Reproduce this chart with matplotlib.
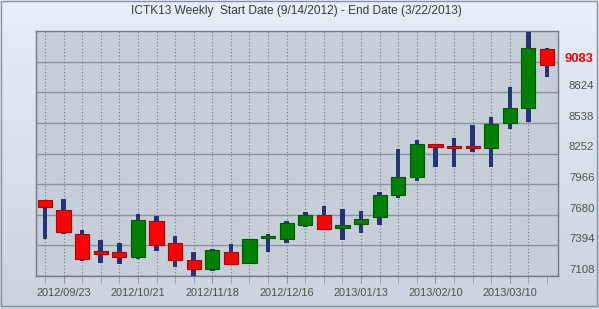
import matplotlib
matplotlib.use('Agg')
import matplotlib.pyplot as plt
import numpy as np
from matplotlib.patches import Rectangle
from matplotlib.transforms import ScaledTranslation, blended_transform_factory

# ---- data ----
week_dates = ["2012/09/16", "2012/09/23", "2012/09/30", "2012/10/07", "2012/10/14", "2012/10/21",
              "2012/10/28", "2012/11/04", "2012/11/11", "2012/11/18", "2012/11/25", "2012/12/02",
              "2012/12/09", "2012/12/16", "2012/12/23", "2012/12/30", "2013/01/06", "2013/01/13",
              "2013/01/20", "2013/01/27", "2013/02/03", "2013/02/10", "2013/02/17", "2013/02/24",
              "2013/03/03", "2013/03/10", "2013/03/17", "2013/03/24"]
opens = [7816, 7720, 7496, 7341, 7329, 7288, 7620, 7413, 7257, 7170, 7329, 7226, 7460, 7450,
         7586, 7673, 7558, 7590, 7655, 7865, 8033, 8338, 8319, 8319, 8307, 8536, 8676, 9226]
highs = [7820, 7825, 7537, 7443, 7413, 7686, 7667, 7481, 7329, 7360, 7403, 7455, 7496, 7620,
         7707, 7760, 7732, 7714, 7891, 8291, 8375, 8344, 8394, 8517, 8592, 8872, 9384, 9238]
lows = [7455, 7502, 7251, 7232, 7220, 7269, 7344, 7195, 7108, 7152, 7208, 7222, 7334, 7418,
        7565, 7537, 7446, 7511, 7583, 7837, 7996, 8126, 8126, 8266, 8126, 8484, 8546, 8965]
closes = [7754, 7521, 7269, 7316, 7282, 7630, 7397, 7260, 7170, 7350, 7217, 7450, 7468, 7599,
          7673, 7549, 7583, 7639, 7860, 8037, 8344, 8316, 8303, 8303, 8530, 8679, 9238, 9083]
grid_values = [7108, 7394, 7680, 7966, 8252, 8538, 8824, 9110]
ytick_labels = [7108, 7394, 7680, 7966, 8252, 8538, 8824]
last_label = "9083"
title = "ICTK13 Weekly  Start Date (9/14/2012) - End Date (3/22/2013)"

FONT = "Liberation Sans"
W, H = 599, 309
fig = plt.figure(figsize=(W / 100, H / 100), dpi=100)

# background gradient
bg = fig.add_axes([0, 0, 1, 1], zorder=-10)
top = np.array([0.905, 0.937, 0.970])
bot = np.array([0.795, 0.832, 0.870])
t = np.linspace(0, 1, 256)[:, None]
grad = top[None, :] * (1 - t) + bot[None, :] * t
bg.imshow(grad[:, None, :], aspect='auto', extent=[0, 1, 0, 1])
bg.add_patch(Rectangle((0.5 / W, 3 / H), 1 - 3 / W, 1 - 3.5 / H, fill=False,
                       edgecolor='#8690a0', lw=1.0, transform=bg.transAxes))
bg.set_xlim(0, 1); bg.set_ylim(0, 1)
bg.axis('off')

L, R, T, B = 36, 558, 31, 276
ax = fig.add_axes([L / W, (H - B) / H, (R - L) / W, (B - T) / H])
ax.set_facecolor('#c6ced8')

x = np.arange(len(opens))
o = np.array(opens, float); c = np.array(closes, float)
hi = np.array(highs, float); lo = np.array(lows, float)
up = c >= o
minh = 20
body_bottom = np.minimum(o, c)
body_h = np.maximum(np.abs(c - o), minh)

ax.bar(x, hi - lo, bottom=lo, width=0.24, color='#27307a', zorder=3)
ax.bar(x[up], body_h[up], bottom=body_bottom[up], width=0.76, color='#008000',
       edgecolor='#005800', lw=0.8, zorder=4)
ax.bar(x[~up], body_h[~up], bottom=body_bottom[~up], width=0.76, color='#ff0000',
       edgecolor='#b00000', lw=0.8, zorder=4)

ax.set_xlim(-0.48, 27.59)
ax.set_ylim(7108, 9396)

# grid
ax.set_yticks(grid_values)
ax.yaxis.grid(True, color='#8a949e', lw=1.0, ls='-', zorder=1)
ax.set_xticks(x[1::4])
ax.set_xticks(x, minor=True)
ax.set_xticklabels([week_dates[i] for i in x[1::4]], fontsize=7.9, color='#505050', family=FONT)
ax.tick_params(axis='x', which='both', length=5, color='#8a949e', direction='out', pad=4)
for xi in x[:-1]:
    ax.axvline(xi, color='#6e7680', lw=0.8, ls=(0, (1, 2)), zorder=1)
ax.tick_params(axis='y', length=0, labelleft=False, labelright=False)
ax.set_axisbelow(True)

for s in ax.spines.values():
    s.set_color('#707a86'); s.set_linewidth(1.0)

# y labels on the right, nudged up
tr = blended_transform_factory(ax.transAxes, ax.transData) + ScaledTranslation(0, 6 / 100, fig.dpi_scale_trans)
for v in ytick_labels:
    ax.text(1.021, v, str(v), transform=tr, ha='left', va='center', fontsize=8.2,
            color='#505050', family=FONT, clip_on=False)
ax.text(1.012, closes[-1], last_label, transform=tr, ha='left', va='center', fontsize=9.4,
        color='#ff0000', fontweight='bold', family=FONT, clip_on=False, zorder=10)

fig.text(296 / W, 1 - 11 / H, title, ha='center', va='center', fontsize=8.6,
         color='#3a3a3a', family=FONT)

fig.savefig('out.png', dpi=100)
